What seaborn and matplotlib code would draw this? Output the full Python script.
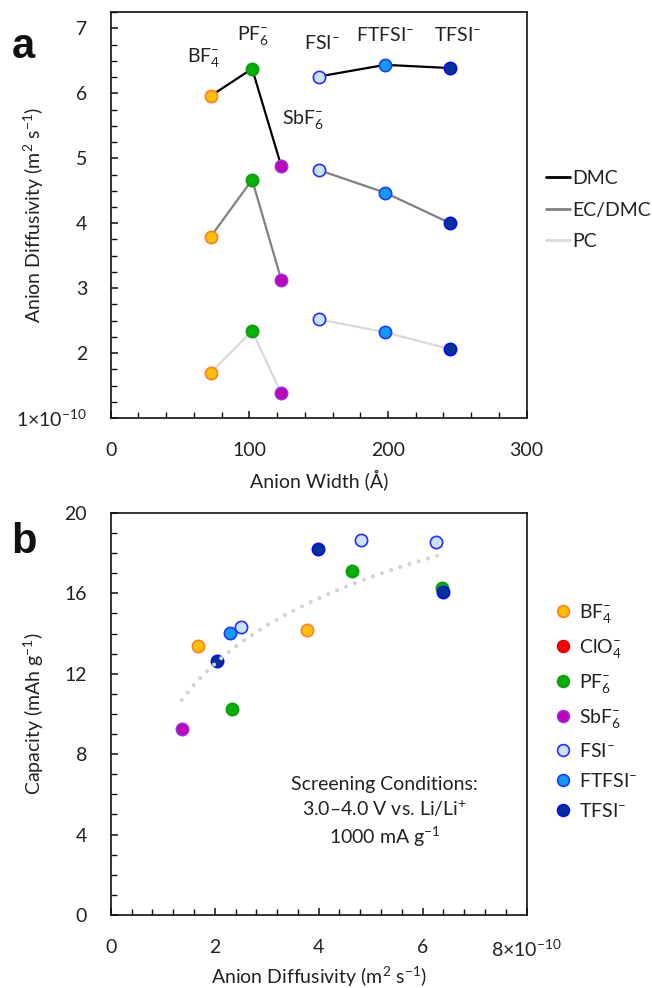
import numpy as np
import pandas as pd
import matplotlib
matplotlib.use("Agg")
import matplotlib.pyplot as plt
from matplotlib.lines import Line2D
from matplotlib.ticker import MultipleLocator, FuncFormatter
import seaborn as sns

# ---------------- data ----------------
anions = ["BF4", "PF6", "SbF6", "FSI", "FTFSI", "TFSI"]
anion_width = [72, 102, 123, 150, 198, 245]
segment = ["A", "A", "A", "B", "B", "B"]
diff_dmc = [5.96, 6.38, 4.88, 6.26, 6.44, 6.39]
diff_ecdmc = [3.79, 4.67, 3.13, 4.82, 4.47, 4.00]
diff_pc = [1.70, 2.34, 1.38, 2.52, 2.32, 2.06]
solvents = ["DMC", "EC/DMC", "PC"]

b_anion = ["SbF6", "PF6", "BF4", "TFSI", "FTFSI", "FSI", "BF4", "TFSI",
           "FSI", "PF6", "FSI", "PF6", "TFSI"]
b_diff = [1.365, 2.34, 1.685, 2.05, 2.30, 2.51, 3.77, 3.98,
          4.81, 4.65, 6.26, 6.37, 6.40]
b_capacity = [9.25, 10.25, 13.38, 12.63, 14.03, 14.33, 14.17, 18.2,
              18.65, 17.12, 18.57, 16.28, 16.08]
legend_anions = ["BF4", "ClO4", "PF6", "SbF6", "FSI", "FTFSI", "TFSI"]

# ---------------- style ----------------
sns.set_theme(style="white")
plt.rcParams["font.family"] = ["Lato", "DejaVu Sans"]
plt.rcParams["mathtext.fontset"] = "custom"
plt.rcParams["mathtext.rm"] = "Lato"
plt.rcParams["mathtext.it"] = "Lato:italic"
plt.rcParams["mathtext.bf"] = "Lato:bold"
plt.rcParams["mathtext.default"] = "regular"

fill = {"BF4": "#FFC000", "ClO4": "#FF0000", "PF6": "#00B300", "SbF6": "#BF00BF",
        "FSI": "#C8E2FF", "FTFSI": "#0F9BFF", "TFSI": "#003399"}
edge = {"BF4": "#FF7F27", "ClO4": "#E00000", "PF6": "#119911", "SbF6": "#9B30D9",
        "FSI": "#2B2BFF", "FTFSI": "#1F3CFF", "TFSI": "#0A0AF0"}
label_tex = {"BF4": "BF$_4^{\u2013}$", "ClO4": "ClO$_4^{\u2013}$", "PF6": "PF$_6^{\u2013}$",
             "SbF6": "SbF$_6^{\u2013}$", "FSI": "FSI$^{\u2013}$", "FTFSI": "FTFSI$^{\u2013}$",
             "TFSI": "TFSI$^{\u2013}$"}
line_col = {"DMC": "#000000", "EC/DMC": "#808080", "PC": "#D9D9D9"}

FS = 14
TXT = "#222222"
fig = plt.figure(figsize=(6.52, 9.88), dpi=100)
axa = fig.add_axes([0.1698, 0.5769, 0.638, 0.4107])
axb = fig.add_axes([0.1698, 0.0739, 0.638, 0.4069])

# ---------------- panel a ----------------
rows = []
for solv, vals in zip(solvents, [diff_dmc, diff_ecdmc, diff_pc]):
    for an, w, seg, v in zip(anions, anion_width, segment, vals):
        rows.append(dict(solvent=solv, anion=an, width=w, seg=seg, diff=v))
dfa = pd.DataFrame(rows)

sns.lineplot(data=dfa, x="width", y="diff", hue="solvent", units="seg",
             estimator=None, palette=line_col, lw=1.6, legend=False, ax=axa,
             zorder=2, sort=False)
for an in anions:
    sub = dfa[dfa.anion == an]
    sns.scatterplot(data=sub, x="width", y="diff", color=fill[an],
                    edgecolor=edge[an], linewidth=1.2, s=78, ax=axa, zorder=3,
                    legend=False)

ann_pos = {"BF4": (67, 6.55), "PF6": (103, 6.89), "SbF6": (139, 5.6),
           "FSI": (152, 6.77), "FTFSI": (198, 6.9), "TFSI": (250, 6.9)}
for an in anions:
    x, y = ann_pos[an]
    axa.text(x, y, label_tex[an], ha="center", va="center", fontsize=FS,
             color=TXT)

axa.set_xlim(0, 300)
axa.set_ylim(1, 7.25)
axa.xaxis.set_major_locator(MultipleLocator(100))
axa.xaxis.set_minor_locator(MultipleLocator(20))
axa.yaxis.set_major_locator(MultipleLocator(1))
axa.yaxis.set_minor_locator(MultipleLocator(0.25))
axa.yaxis.set_major_formatter(FuncFormatter(
    lambda v, p: "1×10$^{-10}$" if abs(v - 1) < 1e-9 else f"{v:g}"))
axa.set_xlabel("Anion Width (Å)", fontsize=FS, color=TXT)
axa.set_ylabel("Anion Diffusivity (m$^2$ s$^{-1}$)", fontsize=FS, color=TXT)

handles_a = [Line2D([0], [0], color=line_col[s], lw=2) for s in solvents]
axa.legend(handles_a, solvents, loc="center left",
           bbox_to_anchor=(0.838, 0.7874), bbox_transform=fig.transFigure,
           frameon=False, fontsize=FS, handlelength=1.2, handletextpad=0.15,
           labelspacing=0.75, borderpad=0, borderaxespad=0, labelcolor=TXT)

# ---------------- panel b ----------------
dfb = pd.DataFrame(dict(anion=b_anion, diff=b_diff, cap=b_capacity))
for an in anions:
    sub = dfb[dfb.anion == an]
    sns.scatterplot(data=sub, x="diff", y="cap", color=fill[an],
                    edgecolor=edge[an], linewidth=1.2, s=78, ax=axb, zorder=3,
                    legend=False)
sns.regplot(data=dfb, x="diff", y="cap", logx=True, ci=None, scatter=False,
            ax=axb, line_kws=dict(color="#D3D3D3", lw=3.0,
                                  linestyle=(0, (0.01, 2.3)),
                                  dash_capstyle="round", zorder=4))

axb.text(5.27, 5.1, "Screening Conditions:\n3.0\u20134.0 V vs. Li/Li$^{+}$\n1000 mA g$^{-1}$",
         ha="center", va="center", fontsize=FS, color=TXT, linespacing=1.3)

axb.set_xlim(0, 8)
axb.set_ylim(0, 20)
axb.xaxis.set_major_locator(MultipleLocator(2))
axb.xaxis.set_minor_locator(MultipleLocator(0.4))
axb.yaxis.set_major_locator(MultipleLocator(4))
axb.yaxis.set_minor_locator(MultipleLocator(1))
axb.xaxis.set_major_formatter(FuncFormatter(
    lambda v, p: "8×10$^{-10}$" if abs(v - 8) < 1e-9 else f"{v:g}"))
axb.set_xlabel("Anion Diffusivity (m$^2$ s$^{-1}$)", fontsize=FS, color=TXT)
axb.set_ylabel("Capacity (mAh g$^{-1}$)", fontsize=FS, color=TXT)

handles_b = [Line2D([0], [0], marker="o", linestyle="none", markersize=8.5,
                    markerfacecolor=fill[a], markeredgecolor=edge[a],
                    markeredgewidth=1.2) for a in legend_anions]
axb.legend(handles_b, [label_tex[a] for a in legend_anions], loc="center left",
           bbox_to_anchor=(0.852, 1 - 711 / 988), bbox_transform=fig.transFigure,
           frameon=False, fontsize=FS, handlelength=0.8, handletextpad=0.4,
           labelspacing=0.62, borderpad=0, borderaxespad=0, labelcolor=TXT)

# ---------------- common axis styling ----------------
for ax in (axa, axb):
    for sp in ax.spines.values():
        sp.set_color("#111111")
        sp.set_linewidth(1.2)
    ax.tick_params(which="both", direction="in", color="#111111",
                   bottom=True, left=True, top=False, right=False)
    ax.tick_params(which="major", length=5, width=1.1, pad=17, labelsize=FS,
                   labelcolor=TXT)
    ax.tick_params(which="minor", length=4.5, width=1.0)
    ax.xaxis.set_label_coords(0.5, -0.125)
    ax.yaxis.set_label_coords(-0.155, 0.5)

fig.text(0.018, 1 - 58 / 988, "a", fontsize=30, fontweight="bold", color="#111111",
         family=["Liberation Sans", "DejaVu Sans"])
fig.text(0.018, 1 - 553 / 988, "b", fontsize=30, fontweight="bold", color="#111111",
         family=["Liberation Sans", "DejaVu Sans"])

fig.savefig("out.png", dpi=100)
